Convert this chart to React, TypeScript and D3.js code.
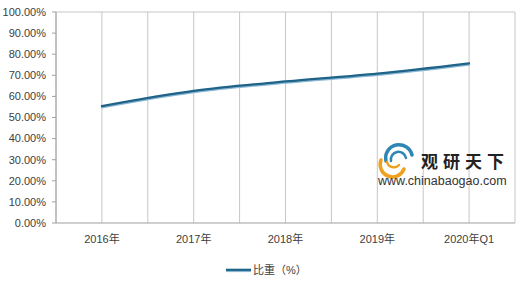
import React from "react";
import * as d3 from "d3";

const categories = ["2016年", "2017年", "2018年", "2019年", "2020年Q1"];
const values = [55.4, 62.6, 67.1, 70.8, 75.7];
const yTicks = [0, 10, 20, 30, 40, 50, 60, 70, 80, 90, 100];
const seriesName = "比重（%）";

const W = 520, H = 282;
const left = 56, right = 515, top = 12, bottom = 223;
const font = "'Liberation Sans', Arial, 'Noto Sans CJK SC', sans-serif";

export default function App() {
  const x = d3.scaleBand<string>().domain(categories).range([left, right]).padding(0);
  const y = d3.scaleLinear().domain([0, 100]).range([bottom, top]);
  const cx = (c: string) => (x(c) as number) + x.bandwidth() / 2;
  const pts: [number, number][] = categories.map((c, i) => [cx(c), y(values[i])]);
  const line = d3.line().curve(d3.curveMonotoneX);
  const shadow = line(pts.map(([a, b]) => [a, b + 1.3] as [number, number])) as string;
  const main = line(pts) as string;
  const gridXs: number[] = [];
  categories.forEach((c) => {
    gridXs.push(x(c) as number);
    gridXs.push(cx(c));
  });
  gridXs.push(right);
  return (
    <svg width={W} height={H} style={{ position: "absolute", left: 0, top: 0, background: "#fff" }} fontFamily={font}>
      <rect x={0} y={0} width={W} height={H} fill="#fff" />
      {gridXs.map((gx, i) => (
        <line key={i} x1={gx} x2={gx} y1={top} y2={bottom} stroke="#c6c6c6" strokeWidth={1} />
      ))}
      <line x1={left} x2={right} y1={top} y2={top} stroke="#c6c6c6" />
      <line x1={left} x2={left} y1={top} y2={bottom} stroke="#a0a0a0" />
      <line x1={left} x2={right} y1={bottom} y2={bottom} stroke="#a0a0a0" />
      {yTicks.map((t) => (
        <g key={t}>
          <line x1={left - 4} x2={left} y1={y(t)} y2={y(t)} stroke="#a0a0a0" />
          <text x={46} y={y(t)} dy="0.35em" textAnchor="end" fontSize={11} fill="#404040">
            {t.toFixed(2) + "%"}
          </text>
        </g>
      ))}
      {categories.map((c) => (
        <text key={c} x={cx(c)} y={243} textAnchor="middle" fontSize={11} fill="#404040">
          {c}
        </text>
      ))}
      {/* watermark */}
      <g fill="none" strokeLinecap="round">
        <path d="M386,161 A11,11 0 0 1 412,155" stroke="#2e86b5" strokeWidth={3.5} />
        <path d="M391,161 A7,7 0 0 1 406,158" stroke="#2e86b5" strokeWidth={2.5} />
        <path d="M381,160 A12,12 0 0 0 404,169" stroke="#f0a020" strokeWidth={3.5} />
        <path d="M387,162 A7,7 0 0 0 399,165" stroke="#f0a020" strokeWidth={2.5} />
      </g>
      <text x={421} y={168} fontSize={17} fontWeight="bold" fill="#222" fontFamily="'Noto Sans CJK SC', sans-serif" letterSpacing={5}>
        观研天下
      </text>
      <text x={378} y={185} fontSize={12.5} fill="#333">
        www.chinabaogao.com
      </text>
      <path d={shadow} fill="none" stroke="#8ab8d4" strokeWidth={2.2} strokeLinecap="round" />
      <path d={main} fill="none" stroke="#1f6388" strokeWidth={2.2} strokeLinecap="round" />
      {/* legend */}
      <line x1={226} x2={251} y1={271} y2={271} stroke="#8ab8d4" strokeWidth={2.2} />
      <line x1={226} x2={251} y1={269.8} y2={269.8} stroke="#1f6388" strokeWidth={2.2} />
      <text x={253} y={270} dy="0.35em" fontSize={11} fill="#404040">
        {seriesName}
      </text>
    </svg>
  );
}
